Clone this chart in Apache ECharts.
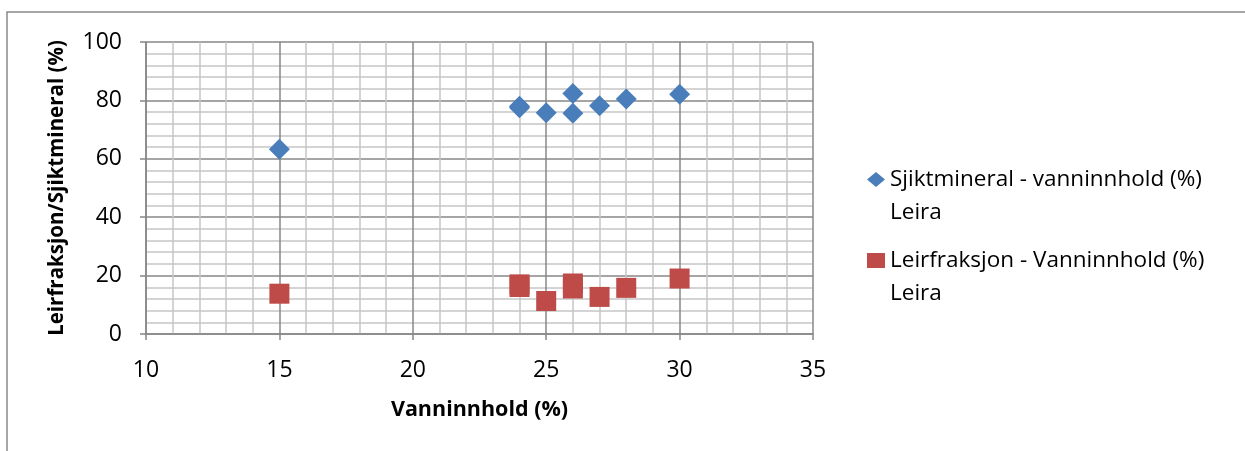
<!DOCTYPE html>
<html>
<head>
<meta charset="utf-8">
<script src="https://cdn.jsdelivr.net/npm/echarts@6/dist/echarts.min.js"></script>
<style>
  html, body { margin: 0; padding: 0; background: #fff; }
  #chart { width: 1245px; height: 451px; }
</style>
</head>
<body>
<div id="chart"></div>
<script>
// Vanninnhold (x) mot sjiktmineral / leirfraksjon (y)
const vannSjikt = [15, 24, 24, 25, 26, 26, 27, 28, 30];
const sjiktmineral = [63.3, 78, 77.5, 75.8, 82.4, 75.6, 78.2, 80.5, 82.1];
const vannLeir = [15, 24, 24, 25, 26, 26, 27, 28, 30];
const leirfraksjon = [13.8, 17, 16.1, 11.3, 17.3, 15.6, 12.7, 15.8, 19];

const seriesNames = [
  'Sjiktmineral - vanninnhold (%)\nLeira',
  'Leirfraksjon - Vanninnhold (%)\nLeira'
];
const xTitle = 'Vanninnhold (%)';
const yTitle = 'Leirfraksjon/Sjiktmineral (%)';

const font = '"Open Sans", Lato, sans-serif';
const majorColor = '#878787';
const minorColor = '#c6c6c6';

const chart = echarts.init(document.getElementById('chart'));

const pairs = (xs, ys) => xs.map((x, i) => [x, ys[i]]);

chart.setOption({
  animation: false,
  textStyle: { fontFamily: font },
  graphic: [{
    type: 'rect',
    shape: { x: 7, y: 12, width: 1400, height: 600 },
    style: { fill: 'none', stroke: '#898989', lineWidth: 1.5 },
    silent: true
  }],
  grid: { left: 146, right: 432, top: 42, bottom: 117 },
  legend: {
    orient: 'vertical',
    left: 867,
    top: 130,
    padding: 0,
    itemGap: -18,
    itemWidth: 18,
    itemHeight: 15,
    // blank first line so the icon sits on the series name, not between lines
    formatter: name => ' \n' + name,
    textStyle: {
      fontFamily: font, fontSize: 22.5, color: '#000', lineHeight: 33
    },
    data: [
      { name: seriesNames[0], icon: 'diamond' },
      { name: seriesNames[1], icon: 'rect' }
    ]
  },
  xAxis: {
    type: 'value',
    min: 10, max: 35, interval: 5,
    name: xTitle,
    nameLocation: 'middle',
    nameGap: 65,
    nameTextStyle: { fontFamily: font, fontSize: 21.5, fontWeight: 'bold', color: '#000' },
    axisLine: { show: true, onZero: false, lineStyle: { color: majorColor, width: 1.5 } },
    axisTick: { show: true, length: 6, lineStyle: { color: majorColor, width: 1.5 } },
    axisLabel: { fontFamily: font, fontSize: 23, color: '#000', margin: 25 },
    splitLine: { show: true, lineStyle: { color: majorColor, width: 1.5 } },
    minorTick: { show: false, splitNumber: 5 },
    minorSplitLine: { show: true, lineStyle: { color: minorColor, width: 1.5 } }
  },
  yAxis: {
    type: 'value',
    min: 0, max: 100, interval: 20,
    name: yTitle,
    nameLocation: 'middle',
    nameGap: 78,
    nameTextStyle: { fontFamily: font, fontSize: 20.5, fontWeight: 'bold', color: '#000' },
    axisLine: { show: true, lineStyle: { color: majorColor, width: 1.5 } },
    axisTick: { show: true, length: 6, lineStyle: { color: majorColor, width: 1.5 } },
    axisLabel: { fontFamily: font, fontSize: 23, color: '#000', margin: 24 },
    splitLine: { show: true, lineStyle: { color: majorColor, width: 1.5 } },
    minorTick: { show: false, splitNumber: 5 },
    minorSplitLine: { show: true, lineStyle: { color: minorColor, width: 1.5 } }
  },
  series: [
    {
      name: seriesNames[0],
      type: 'scatter',
      symbol: 'diamond',
      symbolSize: [21, 21],
      itemStyle: { color: '#4a7ebb', opacity: 1 },
      data: pairs(vannSjikt, sjiktmineral)
    },
    {
      name: seriesNames[1],
      type: 'scatter',
      symbol: 'rect',
      symbolSize: [20, 20],
      itemStyle: { color: '#be4b48', opacity: 1 },
      data: pairs(vannLeir, leirfraksjon)
    }
  ]
});
</script>
</body>
</html>
